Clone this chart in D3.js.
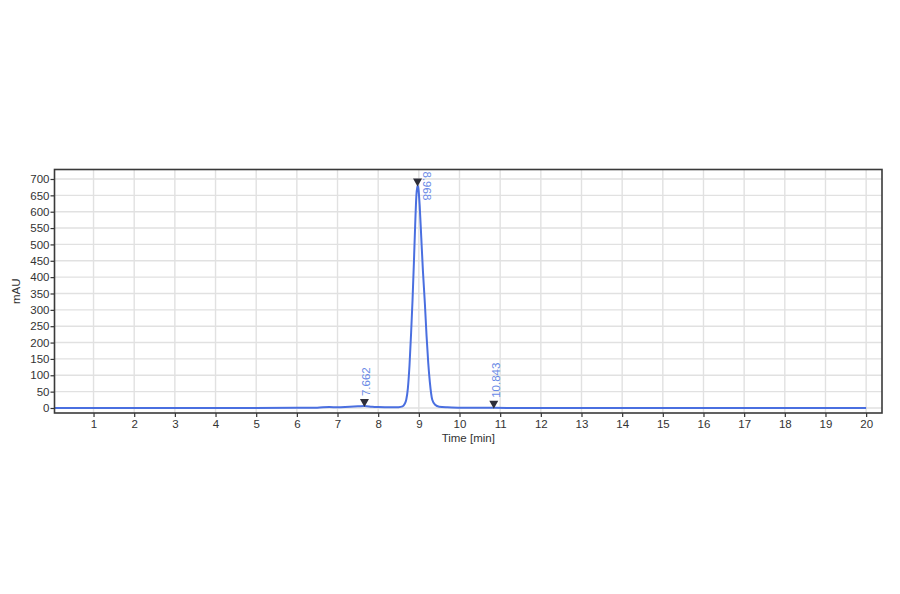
<!DOCTYPE html>
<html>
<head>
<meta charset="utf-8">
<script src="https://cdn.jsdelivr.net/npm/d3@7"></script>
<style>
  body { margin: 0; background: #fff; }
  svg text { font-family: "Liberation Sans", Arial, sans-serif; }
</style>
</head>
<body>
<svg id="chart" width="900" height="594"></svg>
<script>
// trace (time [min], mAU)
const traceTime = [0.04, 2, 4, 6, 6.5, 6.8, 7.0, 7.3, 7.5, 7.662, 7.85, 8.0, 8.3, 8.5, 8.6, 8.65, 8.69, 8.73, 8.77, 8.81, 8.845, 8.88, 8.91, 8.94, 8.968, 8.99, 9.02, 9.06, 9.1, 9.148, 9.19, 9.23, 9.27, 9.33, 9.4, 9.5, 9.7, 10, 10.5, 10.843, 11.5, 14, 17, 20]
const traceMAU  = [0, 0, 0, 0.5, 1, 3, 2, 4, 5, 6, 4, 3, 2, 2.5, 5, 12, 25, 60, 130, 230, 330, 450, 560, 650, 680, 670, 620, 520, 420, 320, 220, 140, 80, 25, 10, 4, 2, 1, 0.5, 0.5, 0, 0, 0, 0]

// integrated peaks
const peakTimes = [7.662, 8.968, 10.843]
const peakLabels = ["7.662", "8.968", "10.843"]
const peakMAU = [6, 680, 0.5]

const xTicks = d3.range(1, 21)
const yTicks = d3.range(0, 701, 50)

const svg = d3.select("#chart")
const L = 54.5, R = 882, T = 169.5, B = 413

const x = d3.scaleLinear().domain([0.04, 20.39]).range([L, R])
const y = d3.scaleLinear().domain([-15.3, 729]).range([B, T])

//grid
const grid = svg.append("g").attr("stroke", "#e1e1e1").attr("stroke-width", 1.4)
grid.selectAll("line.v").data(xTicks).enter().append("line")
  .attr("x1", d => x(d)).attr("x2", d => x(d)).attr("y1", T).attr("y2", B)
grid.selectAll("line.h").data(yTicks).enter().append("line")
  .attr("x1", L).attr("x2", R).attr("y1", d => y(d)).attr("y2", d => y(d))

//axes
let xAxis = svg.append("g").attr("transform", `translate(0,${B})`)
  .call(d3.axisBottom(x).tickValues(xTicks).tickSize(4).tickPadding(3).tickFormat(d3.format("d")))
let yAxis = svg.append("g").attr("transform", `translate(${L},0)`)
  .call(d3.axisLeft(y).tickValues(yTicks).tickSize(4).tickPadding(1).tickFormat(d3.format("d")))
;[xAxis, yAxis].forEach(a => {
  a.select(".domain").remove()
  a.selectAll("line").attr("stroke", "#333").attr("stroke-width", 1.2)
  a.selectAll("text").attr("fill", "#333").attr("font-size", 11.5)
})

//trace
const line = d3.line().x((d, i) => x(traceTime[i])).y((d, i) => y(traceMAU[i])).curve(d3.curveMonotoneX)
svg.append("path").datum(traceMAU)
  .attr("d", line).attr("fill", "none")
  .attr("stroke", "#4a6fe0").attr("stroke-width", 2)

//frame
svg.append("rect").attr("x", L).attr("y", T).attr("width", R - L).attr("height", B - T)
  .attr("fill", "none").attr("stroke", "#3a3a3a").attr("stroke-width", 1.6)

//peak markers
svg.selectAll("path.tri").data(peakTimes).enter().append("path")
  .attr("d", (d, i) => {
    let px = x(d), py = y(peakMAU[i]) + 1
    return `M${px - 4.5},${py - 8}L${px + 4.5},${py - 8}L${px},${py}Z`
  })
  .attr("fill", "#2e2e38")

svg.selectAll("text.pk").data(peakTimes).enter().append("text")
  .attr("font-size", 11.5).attr("fill", "#6a8ae6")
  .attr("transform", (d, i) => {
    let px = x(d), py = y(peakMAU[i])
    if (i === 1) return `translate(${px + 5},${py - 14}) rotate(90)`
    return `translate(${px + 6},${py - 10}) rotate(-90)`
  })
  .text((d, i) => peakLabels[i])

//titles
svg.append("text").attr("x", (L + R) / 2).attr("y", 442).attr("text-anchor", "middle")
  .attr("font-size", 11.5).attr("fill", "#333").text("Time [min]")
svg.append("text").attr("transform", `translate(20,${(T + B) / 2}) rotate(-90)`)
  .attr("text-anchor", "middle").attr("font-size", 11.5).attr("fill", "#333").text("mAU")
</script>
</body>
</html>
